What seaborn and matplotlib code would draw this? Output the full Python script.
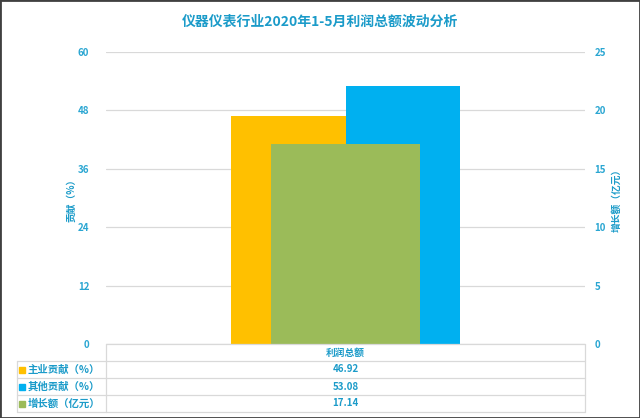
import matplotlib
matplotlib.use("Agg")
import matplotlib.pyplot as plt
import seaborn as sns
import pandas as pd
from matplotlib.patches import Rectangle

sns.set_theme(style="white")
plt.rcParams['font.family'] = ['Noto Sans CJK SC', 'DejaVu Sans']

# ---- data ----
category = ["利润总额"]
series_primary = ["主业贡献（%）", "其他贡献（%）"]
values_primary = [46.92, 53.08]
series_secondary = "增长额（亿元）"
values_secondary = [17.14]
left_ticks = [0, 12, 24, 36, 48, 60]
right_ticks = [0, 5, 10, 15, 20, 25]
title = "仪器仪表行业2020年1-5月利润总额波动分析"
left_label = "贡献（%）"
right_label = "增长额（亿元）"

orange = "#FFC000"
blue = "#00B0F0"
green = "#9BBB59"
txt = "#1B9BC9"
tick_c = "#2AA6D2"
grid = "#D9D9D9"

df1 = pd.DataFrame({
    "cat": category * len(series_primary),
    "series": series_primary,
    "value": values_primary,
})
df2 = pd.DataFrame({"cat": category, "value": values_secondary})

fig = plt.figure(figsize=(6.4, 4.18), dpi=100)
W, H = 640, 418
ax_l, ax_r, ax_t, ax_b = 106, 585, 52, 344
ax = fig.add_axes([ax_l / W, 1 - ax_b / H, (ax_r - ax_l) / W, (ax_b - ax_t) / H])

sns.barplot(data=df1, x="cat", y="value", hue="series",
            palette=[orange, blue], width=0.476, ax=ax, legend=False,
            saturation=1, errorbar=None, linewidth=0, edgecolor="none")
ax.set_xlim(-0.5, 0.5)
ax.set_ylim(0, 60)
ax.set_yticks(left_ticks)
ax.set_yticklabels([str(t) for t in left_ticks])
ax.yaxis.grid(True, color=grid, linewidth=0.9)
ax.set_axisbelow(True)
ax.set_xlabel("")
ax.set_ylabel(left_label, color=txt, fontsize=7, fontweight="bold", labelpad=1)
ax.set_xticks([])
ax.tick_params(axis="y", length=0, pad=12, labelsize=7, labelcolor=tick_c)
for lab in ax.get_yticklabels():
    lab.set_fontweight("bold")
for s in ax.spines.values():
    s.set_visible(False)

ax2 = ax.twinx()
sns.barplot(data=df2, x="cat", y="value", color=green, width=0.313, ax=ax2,
            saturation=1, errorbar=None, linewidth=0, edgecolor="none")
ax2.set_xlim(-0.5, 0.5)
ax2.set_ylim(0, 25)
ax2.set_yticks(right_ticks)
ax2.set_yticklabels([str(t) for t in right_ticks])
ax2.set_xlabel("")
ax2.set_xticks([])
ax2.set_ylabel(right_label, color=txt, fontsize=7, fontweight="bold",
               rotation=90, labelpad=4)
ax2.tick_params(axis="y", length=0, pad=7, labelsize=7, labelcolor=tick_c)
for lab in ax2.get_yticklabels():
    lab.set_fontweight("bold")
for s in ax2.spines.values():
    s.set_visible(False)

# ---- data table below the axes (figure pixel coords) ----
def fx(px):
    return px / W

def fy(py):
    return 1 - py / H

rows_y = [344, 361, 378, 395, 412]
tbl_left = 17
lc = grid
lw = 0.9
fig.add_artist(plt.Line2D([fx(ax_l), fx(ax_r)], [fy(344), fy(344)], color=lc, lw=lw))
for yy in rows_y[1:]:
    fig.add_artist(plt.Line2D([fx(tbl_left), fx(ax_r)], [fy(yy), fy(yy)], color=lc, lw=lw))
fig.add_artist(plt.Line2D([fx(ax_l), fx(ax_l)], [fy(344), fy(412)], color=lc, lw=lw))
fig.add_artist(plt.Line2D([fx(ax_r), fx(ax_r)], [fy(344), fy(412)], color=lc, lw=lw))
fig.add_artist(plt.Line2D([fx(tbl_left), fx(tbl_left)], [fy(361), fy(412)], color=lc, lw=lw))

cx = (ax_l + ax_r) / 2
fig.text(fx(cx), fy((rows_y[0] + rows_y[1]) / 2), category[0], ha="center", va="center",
         color=txt, fontsize=7, fontweight="bold")
names = series_primary + [series_secondary]
vals = values_primary + values_secondary
cols = [orange, blue, green]
for i in range(3):
    ymid = (rows_y[i + 1] + rows_y[i + 2]) / 2
    fig.add_artist(Rectangle((fx(19), fy(ymid + 3)), 6 / W, 6 / H, color=cols[i],
                             transform=fig.transFigure))
    fig.text(fx(28), fy(ymid), names[i], ha="left", va="center", color=txt,
             fontsize=7.5, fontweight="bold")
    fig.text(fx(cx), fy(ymid), f"{vals[i]:.2f}", ha="center", va="center",
             color=txt, fontsize=7, fontweight="bold")

fig.text(0.5, fy(22), title, ha="center", va="center", color=txt,
         fontsize=10, fontweight="bold")

fig.add_artist(Rectangle((0, 0), 1, 1, fill=False, edgecolor="#404040", lw=2,
                         transform=fig.transFigure))

fig.savefig("out.png", dpi=100)
